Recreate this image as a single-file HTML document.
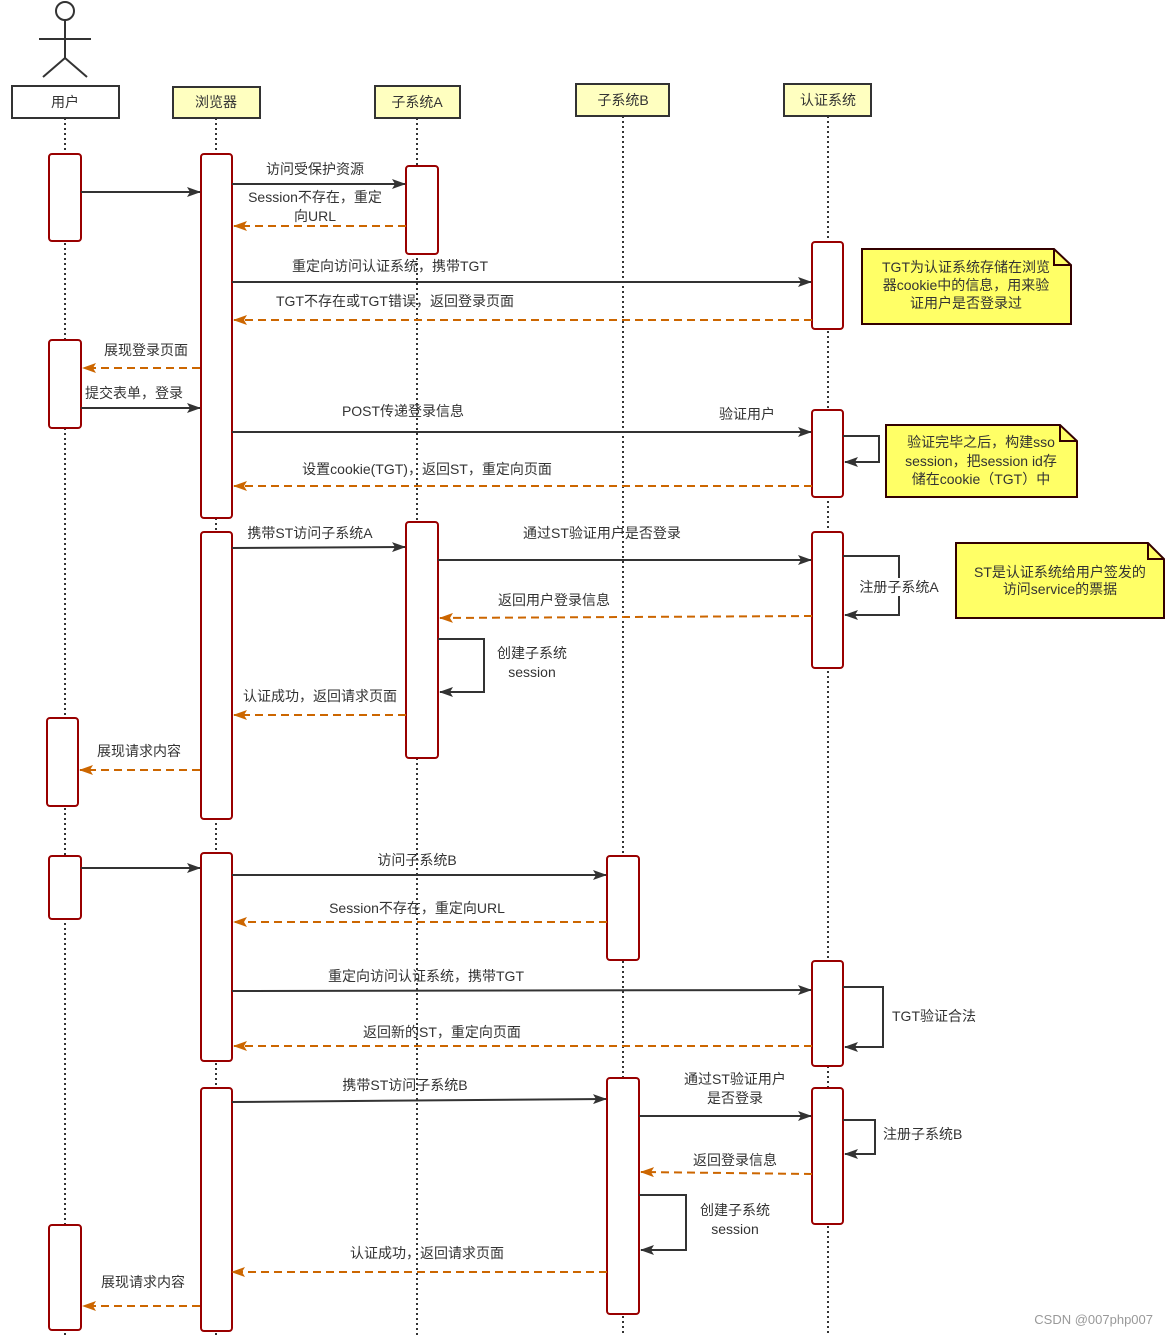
<!DOCTYPE html>
<html><head><meta charset="utf-8"><style>
html,body{margin:0;padding:0;background:#fff;}
svg{display:block;}
text{font-family:"Liberation Sans","Noto Sans CJK SC",sans-serif;font-size:14px;fill:#333;}
.ll{stroke:#333;stroke-width:2;stroke-dasharray:2 3;}
.act{fill:#fff;stroke:#990000;stroke-width:2;}
.hd{fill:#ffffc0;stroke:#333;stroke-width:2;}
.m{stroke:#333;stroke-width:2;fill:none;marker-end:url(#a);}
.r{stroke:#cc6600;stroke-width:2;fill:none;stroke-dasharray:8 5;marker-end:url(#o);}
.self{stroke:#333;stroke-width:2;fill:none;marker-end:url(#a);}
.note{fill:#ffff66;stroke:#330000;stroke-width:2;}
</style></head><body>
<svg width="1168" height="1336" viewBox="0 0 1168 1336" xmlns="http://www.w3.org/2000/svg">
<defs>
<marker id="a" markerWidth="14" markerHeight="10" refX="13" refY="5" orient="auto" markerUnits="userSpaceOnUse"><path d="M0,0 L14,5 L0,10 L3,5 Z" fill="#333"/></marker>
<marker id="o" markerWidth="14" markerHeight="10" refX="13" refY="5" orient="auto" markerUnits="userSpaceOnUse"><path d="M0,0 L14,5 L0,10 L3,5 Z" fill="#cc6600"/></marker>
</defs>
<circle cx="65" cy="11" r="9" fill="#fff" stroke="#333" stroke-width="2"/>
<line x1="65" y1="20" x2="65" y2="58" stroke="#333" stroke-width="2"/>
<line x1="39" y1="39" x2="91" y2="39" stroke="#333" stroke-width="2"/>
<line x1="65" y1="58" x2="43" y2="77" stroke="#333" stroke-width="2"/>
<line x1="65" y1="58" x2="87" y2="77" stroke="#333" stroke-width="2"/>
<line class="ll" x1="65" y1="118" x2="65" y2="1336"/>
<line class="ll" x1="216" y1="118" x2="216" y2="1336"/>
<line class="ll" x1="417" y1="118" x2="417" y2="1336"/>
<line class="ll" x1="623" y1="116" x2="623" y2="1336"/>
<line class="ll" x1="828" y1="116" x2="828" y2="1336"/>
<rect x="12" y="86" width="107" height="32" fill="#fff" stroke="#333" stroke-width="2"/><text x="65" y="107" text-anchor="middle">用户</text>
<rect class="hd" x="173" y="87" width="87" height="31"/><text x="216" y="107" text-anchor="middle">浏览器</text>
<rect class="hd" x="375" y="86" width="85" height="32"/><text x="417" y="107" text-anchor="middle">子系统A</text>
<rect class="hd" x="576" y="84" width="93" height="32"/><text x="623" y="105" text-anchor="middle">子系统B</text>
<rect class="hd" x="784" y="84" width="87" height="32"/><text x="828" y="105" text-anchor="middle">认证系统</text>
<rect class="act" x="49" y="154" width="32" height="87" rx="3"/>
<rect class="act" x="49" y="340" width="32" height="88" rx="3"/>
<rect class="act" x="47" y="718" width="31" height="88" rx="3"/>
<rect class="act" x="49" y="856" width="32" height="63" rx="3"/>
<rect class="act" x="49" y="1225" width="32" height="105" rx="3"/>
<rect class="act" x="201" y="154" width="31" height="364" rx="3"/>
<rect class="act" x="201" y="532" width="31" height="287" rx="3"/>
<rect class="act" x="201" y="853" width="31" height="208" rx="3"/>
<rect class="act" x="201" y="1088" width="31" height="243" rx="3"/>
<rect class="act" x="406" y="166" width="32" height="88" rx="3"/>
<rect class="act" x="406" y="522" width="32" height="236" rx="3"/>
<rect class="act" x="607" y="856" width="32" height="104" rx="3"/>
<rect class="act" x="607" y="1078" width="32" height="236" rx="3"/>
<rect class="act" x="812" y="242" width="31" height="87" rx="3"/>
<rect class="act" x="812" y="410" width="31" height="87" rx="3"/>
<rect class="act" x="812" y="532" width="31" height="136" rx="3"/>
<rect class="act" x="812" y="961" width="31" height="105" rx="3"/>
<rect class="act" x="812" y="1088" width="31" height="136" rx="3"/>
<line class="m" x1="81" y1="192" x2="200" y2="192"/>
<line class="m" x1="232" y1="184" x2="405" y2="184"/><text x="315" y="174" text-anchor="middle">访问受保护资源</text>
<line class="r" x1="406" y1="226" x2="234" y2="226"/><text x="315" y="202" text-anchor="middle">Session不存在，重定</text><text x="315" y="221" text-anchor="middle">向URL</text>
<line class="m" x1="232" y1="282" x2="811" y2="282"/><text x="390" y="271" text-anchor="middle">重定向访问认证系统，携带TGT</text>
<line class="r" x1="812" y1="320" x2="234" y2="320"/><text x="395" y="306" text-anchor="middle">TGT不存在或TGT错误，返回登录页面</text>
<line class="r" x1="200" y1="368" x2="83" y2="368"/><text x="146" y="355" text-anchor="middle">展现登录页面</text>
<line class="m" x1="81" y1="408" x2="200" y2="408"/><text x="134" y="398" text-anchor="middle">提交表单，登录</text>
<line class="m" x1="232" y1="432" x2="811" y2="432"/><text x="403" y="416" text-anchor="middle">POST传递登录信息</text><text x="747" y="419" text-anchor="middle">验证用户</text>
<path class="self" d="M843,436 H879 V462 H845"/>
<line class="r" x1="812" y1="486" x2="234" y2="486"/><text x="427" y="474" text-anchor="middle">设置cookie(TGT)，返回ST，重定向页面</text>
<line class="m" x1="232" y1="548" x2="405" y2="547"/><text x="310" y="538" text-anchor="middle">携带ST访问子系统A</text>
<line class="m" x1="438" y1="560" x2="811" y2="560"/><text x="602" y="538" text-anchor="middle">通过ST验证用户是否登录</text>
<path class="self" d="M843,556 H899 V615 H845"/>
<rect x="858" y="578" width="82" height="18" fill="#fff"/><text x="899" y="592" text-anchor="middle">注册子系统A</text>
<line class="r" x1="812" y1="616" x2="440" y2="618"/><text x="554" y="605" text-anchor="middle">返回用户登录信息</text>
<path class="self" d="M438,639 H484 V692 H440"/>
<text x="532" y="658" text-anchor="middle">创建子系统</text><text x="532" y="677" text-anchor="middle">session</text>
<line class="r" x1="406" y1="715" x2="234" y2="715"/><text x="320" y="701" text-anchor="middle">认证成功，返回请求页面</text>
<line class="r" x1="200" y1="770" x2="80" y2="770"/><text x="139" y="756" text-anchor="middle">展现请求内容</text>
<line class="m" x1="81" y1="868" x2="200" y2="868"/>
<line class="m" x1="232" y1="875" x2="606" y2="875"/><text x="417" y="865" text-anchor="middle">访问子系统B</text>
<line class="r" x1="607" y1="922" x2="234" y2="922"/><text x="417" y="913" text-anchor="middle">Session不存在，重定向URL</text>
<line class="m" x1="232" y1="991" x2="811" y2="990"/><text x="426" y="981" text-anchor="middle">重定向访问认证系统，携带TGT</text>
<path class="self" d="M843,987 H883 V1047 H845"/><text x="892" y="1021">TGT验证合法</text>
<line class="r" x1="812" y1="1046" x2="234" y2="1046"/><text x="442" y="1037" text-anchor="middle">返回新的ST，重定向页面</text>
<line class="m" x1="232" y1="1102" x2="606" y2="1099"/><text x="405" y="1090" text-anchor="middle">携带ST访问子系统B</text>
<text x="735" y="1084" text-anchor="middle">通过ST验证用户</text><text x="735" y="1103" text-anchor="middle">是否登录</text>
<line class="m" x1="639" y1="1116" x2="811" y2="1116"/>
<path class="self" d="M843,1120 H875 V1154 H845"/><text x="883" y="1139">注册子系统B</text>
<line class="r" x1="812" y1="1174" x2="641" y2="1172"/><text x="735" y="1165" text-anchor="middle">返回登录信息</text>
<path class="self" d="M639,1195 H686 V1250 H641"/>
<text x="735" y="1215" text-anchor="middle">创建子系统</text><text x="735" y="1234" text-anchor="middle">session</text>
<line class="r" x1="607" y1="1272" x2="232" y2="1272"/><text x="427" y="1258" text-anchor="middle">认证成功，返回请求页面</text>
<line class="r" x1="200" y1="1306" x2="83" y2="1306"/><text x="143" y="1287" text-anchor="middle">展现请求内容</text>
<path class="note" d="M862,249 H1054 L1071,265 V324 H862 Z"/><path d="M1054,249 V265 H1071" fill="none" stroke="#330000" stroke-width="2"/>
<text x="966" y="272" text-anchor="middle">TGT为认证系统存储在浏览</text><text x="966" y="290" text-anchor="middle">器cookie中的信息，用来验</text><text x="966" y="308" text-anchor="middle">证用户是否登录过</text>
<path class="note" d="M886,425 H1060 L1077,441 V497 H886 Z"/><path d="M1060,425 V441 H1077" fill="none" stroke="#330000" stroke-width="2"/>
<text x="981" y="447" text-anchor="middle">验证完毕之后，构建sso</text><text x="981" y="466" text-anchor="middle">session，把session id存</text><text x="981" y="484" text-anchor="middle">储在cookie（TGT）中</text>
<path class="note" d="M956,543 H1148 L1164,559 V618 H956 Z"/><path d="M1148,543 V559 H1164" fill="none" stroke="#330000" stroke-width="2"/>
<text x="1060" y="577" text-anchor="middle">ST是认证系统给用户签发的</text><text x="1060" y="594" text-anchor="middle">访问service的票据</text>
<text x="1153" y="1324" text-anchor="end" style="font-size:13px;fill:#999">CSDN @007php007</text>
</svg>
</body></html>
